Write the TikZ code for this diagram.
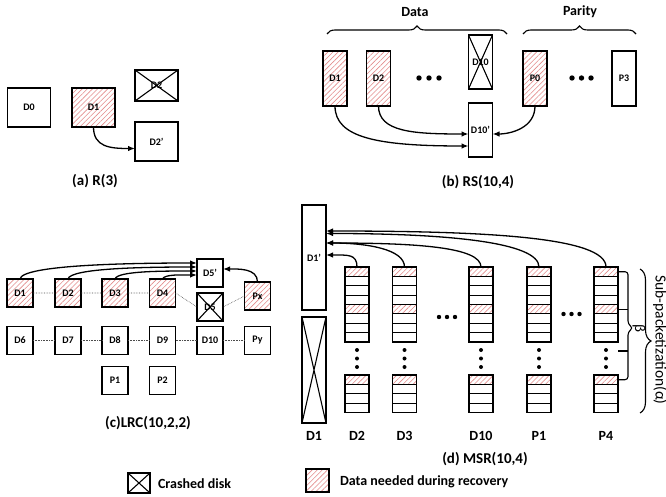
\documentclass[tikz,border=0pt]{standalone}
\usepackage{fontspec}
\setmainfont{Carlito}
\usetikzlibrary{arrows.meta,patterns.meta,decorations.pathreplacing,calc}
\definecolor{hatchred}{RGB}{228,140,140}
\newcommand\msrcol[3]{%
  \foreach \i in {0,...,7} {\node[cell] at (#2, 271.6875+\i*9.375) {};}
  \node[hcell] (#1) at (#2, 271.6875) {};
  \node[hcell] at (#2, 309.1875) {};
  \foreach \i in {0,...,3} {\node[cell] at (#2, 379.6875+\i*9.375) {};}
  \node[hcell] at (#2, 379.6875) {};
  \fill (#2,350) circle (2pt) (#2,358.5) circle (2pt) (#2,367) circle (2pt);
  \node[collab] at (#2,436) {#3};
}
\begin{document}
\begin{tikzpicture}[x=1pt,y=-1pt,
  every node/.style={inner sep=0pt, outer sep=0pt},
  disk/.style={draw, line width=1.1pt, font=\bfseries\fontsize{10}{10}\selectfont},
  need/.style={disk, pattern={Lines[angle=45,distance=3.6pt,line width=0.6pt]}, pattern color=hatchred},
  crash/.style={disk, path picture={\draw[line width=1.1pt] (path picture bounding box.north west) -- (path picture bounding box.south east) (path picture bounding box.south west) -- (path picture bounding box.north east);}},
  cell/.style={draw, line width=1.1pt, minimum width=24pt, minimum height=9.375pt},
  hcell/.style={cell, pattern={Lines[angle=45,distance=3.6pt,line width=0.6pt]}, pattern color=hatchred},
  arr/.style={line width=1.3pt, -{Latex[length=7pt,width=5.5pt]}},
  dotl/.style={densely dotted, line width=0.6pt, black!70},
  captxt/.style={font=\bfseries\fontsize{15}{15}\selectfont},
  collab/.style={font=\bfseries\fontsize{14}{14}\selectfont},
  bracetxt/.style={font=\bfseries\fontsize{14}{14}\selectfont},
  abox/.style={minimum width=43pt, minimum height=39pt},
  bbox/.style={minimum width=24pt, minimum height=55pt},
  cbox/.style={minimum width=26pt, minimum height=28pt},
]
\useasboundingbox[fill=white] (0,0) rectangle (666,497);

% ---------- (a) R(3)
\node[disk, abox] (a0) at (29,107.5) {D0};
\node[need, abox] (a1) at (93.5,107.5) {D1};
\node[crash, abox, minimum height=31pt] (a2) at (156.5,85.5) {D2};
\node[disk, abox] (a2p) at (156.5,141.5) {D2'};
\draw[arr] (a1.south) .. controls +(0,20) and +(-25,0) .. ([yshift=-7pt]a2p.west);
\node[captxt] (capa) at (95,181) {(a) R(3)};

% ---------- (b) RS(10,4)
\node[need, bbox] (b1) at (335,78.5) {D1};
\node[need, bbox] (b2) at (378.5,78.5) {D2};
\node[crash, bbox, minimum height=54pt] (b10) at (480.5,62) {D10};
\node[need, bbox] (bp0) at (535,78.5) {P0};
\node[disk, bbox] (bp3) at (624,78.5) {P3};
\node[disk, bbox, minimum height=54pt] (b10p) at (480.5,130) {D10'};
\fill (419,78) circle (2.7pt) (429,78) circle (2.7pt) (439,78) circle (2.7pt);
\fill (572,78) circle (2.7pt) (581.5,78) circle (2.7pt) (591,78) circle (2.7pt);
\draw[decorate, decoration={brace, amplitude=8pt}, line width=1.1pt] (327,34) -- (507,34);
\draw[decorate, decoration={brace, amplitude=8pt}, line width=1.1pt] (523,34) -- (636,34);
\node[bracetxt] (tdata) at (415,12) {Data};
\node[bracetxt] (tpar) at (580,12) {Parity};
\draw[arr] (b1.south) .. controls +(0,32) and +(-90,0) .. ([yshift=-16pt]b10p.west);
\draw[arr] (b2.south) .. controls +(0,26) and +(-55,0) .. ([yshift=-4pt]b10p.west);
\draw[arr] (bp0.south) .. controls +(0,22) and +(18,0) .. ([yshift=-4pt]b10p.east);
\node[captxt] (capb) at (478,182) {(b) RS(10,4)};

% ---------- (c) LRC(10,2,2)
\node[need, cbox] (c1) at (20,293) {D1};
\node[need, cbox] (c2) at (68,293) {D2};
\node[need, cbox] (c3) at (115,293) {D3};
\node[need, cbox] (c4) at (162.5,293) {D4};
\node[disk, cbox] (c5p) at (210,273) {D5'};
\node[crash, cbox] (c5) at (210,307) {D5};
\node[need, cbox] (cpx) at (257.5,296) {Px};
\node[disk, cbox] (c6) at (20,340.5) {D6};
\node[disk, cbox] (c7) at (68,340.5) {D7};
\node[disk, cbox] (c8) at (115,340.5) {D8};
\node[disk, cbox] (c9) at (162.5,340.5) {D9};
\node[disk, cbox] (c10) at (210,340.5) {D10};
\node[disk, cbox] (cpy) at (257.5,340.5) {Py};
\node[disk, cbox] (cp1) at (115,380.5) {P1};
\node[disk, cbox] (cp2) at (162.5,380.5) {P2};
\draw[dotl] (c1) -- (c2) (c2) -- (c3) (c3) -- (c4) (c4.east) -- (c5.west) (cpx.west) -- (c5.east);
\draw[dotl] (c6) -- (c7) (c7) -- (c8) (c8) -- (c9) (c9) -- (c10) (c10) -- (cpy);
\draw[arr] (c1.north) .. controls +(2,-14) and +(-70,0) .. ([yshift=10pt]c5p.west);
\draw[arr] (c2.north) .. controls +(2,-11) and +(-50,0) .. ([yshift=6pt]c5p.west);
\draw[arr] (c3.north) .. controls +(2,-8) and +(-35,0) .. ([yshift=2pt]c5p.west);
\draw[arr] (c4.north) .. controls +(2,-5) and +(-15,0) .. ([yshift=-2pt]c5p.west);
\draw[arr] (cpx.north) .. controls +(0,-14) and +(15,0) .. ([yshift=4pt]c5p.east);
\node[captxt] (capc) at (148,423) {(c)LRC(10,2,2)};

% ---------- (d) MSR(10,4)
\node[disk, minimum width=24pt, minimum height=105pt] (d1p) at (314,257.5) {D1'};
\node[crash, minimum width=24pt, minimum height=106pt] (d1x) at (314,370) {};
\node[collab] (ld1) at (314,436) {D1};
\msrcol{dD2}{357}{D2}
\msrcol{dD3}{404.5}{D3}
\msrcol{dD10}{481}{D10}
\msrcol{dP1}{539}{P1}
\msrcol{dP4}{606}{P4}
\fill (439,317) circle (2.2pt) (447,317) circle (2.2pt) (455,317) circle (2.2pt);
\fill (563.5,314) circle (2.2pt) (571.5,314) circle (2.2pt) (579.5,314) circle (2.2pt);
\draw[arr] (dD2.north) .. controls +(0,-13) and +(22,0) .. ([yshift=2.5pt]d1p.east);
\draw[arr] (dD3.north) .. controls +(0,-18) and +(40,0) .. ([yshift=14.5pt]d1p.east);
\draw[arr] (dD10.north) .. controls +(0,-20) and +(90,0) .. ([yshift=14.5pt]d1p.east);
\draw[arr] (dP1.north) .. controls +(0,-25) and +(120,0) .. ([yshift=24pt]d1p.east);
\draw[arr] (dP4.north) .. controls +(0,-30) and +(160,0) .. ([yshift=26.5pt]d1p.east);
% beta brace
\draw[line width=1.1pt, rounded corners=3pt] (618,271.7) -- (628,271.7) -- (628,324) -- (633,328) -- (628,332) -- (628,379.7) -- (618,379.7);
\draw[line width=1.1pt] (618,309.2) -- (628,309.2) (618,351) -- (628,351);
\node[font=\fontsize{15}{15}\selectfont, rotate=-90] (tbeta) at (639,328) {β};
% alpha brace
\draw[decorate, decoration={brace, amplitude=11pt}, line width=1.1pt] (640,269) -- (640,413);
\node[font=\fontsize{15.5}{15.5}\selectfont, rotate=-90] (talpha) at (660,340) {Sub-packetization(α)};
\node[captxt] (capd) at (485,459) {(d) MSR(10,4)};

% ---------- legend
\node[crash, minimum width=22pt, minimum height=20pt] (lgx) at (139,483) {};
\node[collab, anchor=west] (lgxt) at (158,484) {Crashed disk};
\node[need, minimum width=23pt, minimum height=23pt] (lgh) at (317.5,480.5) {};
\node[collab, anchor=west] (lght) at (340,482) {Data needed during recovery};
\end{tikzpicture}
\end{document}
